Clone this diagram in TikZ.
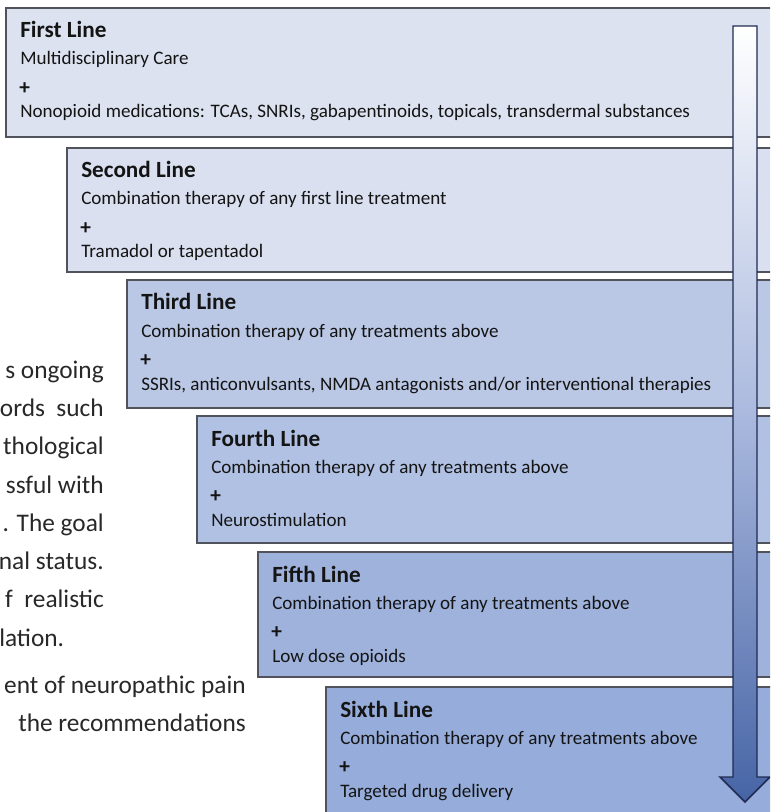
\documentclass[tikz,border=0pt]{standalone}
\usepackage{fontspec}
\setmainfont{Carlito}
\usetikzlibrary{calc}
\definecolor{boxA}{RGB}{220,226,240}
\definecolor{boxB}{RGB}{218,224,240}
\definecolor{boxC}{RGB}{186,200,229}
\definecolor{boxD}{RGB}{177,193,227}
\definecolor{boxE}{RGB}{158,178,220}
\definecolor{boxF}{RGB}{150,172,218}
\definecolor{edgegray}{RGB}{80,82,92}
\definecolor{navy}{RGB}{32,42,82}
\definecolor{arrowblue}{RGB}{70,100,165}
\definecolor{txt}{RGB}{20,20,20}
\definecolor{para}{RGB}{40,40,40}
\tikzset{
  linebox/.style={draw=edgegray, line width=1.1pt, anchor=north west, inner sep=0pt, outer sep=0pt},
  ttl/.style={anchor=base west, inner sep=0pt, font=\fontsize{17.4}{20}\selectfont\bfseries, text=txt},
  bodytxt/.style={anchor=base west, inner sep=0pt, font=\fontsize{14.3}{17}\selectfont, text=txt},
  plus/.style={anchor=west, inner sep=0pt, font=\fontsize{16}{18}\selectfont\bfseries, text=txt},
  paraR/.style={anchor=base east, inner sep=0pt, font=\fontsize{19}{22}\selectfont, text=para},
  paraL/.style={anchor=base west, inner sep=0pt, font=\fontsize{19}{22}\selectfont, text=para},
}
% #1 name, #2 left, #3 top, #4 bottom, #5 colour, #6 title, #7 line1, #8 line3
\newcommand\stepline[8]{%
  \node[linebox, fill=#5, minimum width={(800-#2)*0.75pt}, minimum height={(#4-#3)*0.75pt}] (#1) at (#2,#3) {};
  \node[ttl] (#1t) at ($(#1.north west)+(14,30)$) {#6};
  \node[bodytxt] (#1a) at ($(#1.north west)+(14,57)$) {#7};
  \node[plus] (#1p) at ($(#1.north west)+(13,81)$) {+};
  \node[bodytxt] (#1b) at ($(#1.north west)+(14,110)$) {#8};
}
\begin{document}
\begin{tikzpicture}[x=0.75pt, y=-0.75pt]
\useasboundingbox (0,0) rectangle (770,812);
\clip (0,0) rectangle (770,812);
\fill[white] (0,0) rectangle (770,812);

% paragraph fragments on the left
\node[paraR] (p1) at (104,378) {s ongoing};
\node[paraR] (p2) at (104,416) {ords~~such};
\node[paraR] (p3) at (104,454) {thological};
\node[paraR] (p4) at (104,493) {ssful with};
\node[paraR] (p5) at (104,531) {. The goal};
\node[paraR] (p6) at (104,569) {nal status.};
\node[paraR] (p7) at (104,607) {f~~realistic};
\node[paraL] (p8) at (-1,646) {lation.};
\node[paraR] (p9) at (246,693) {ent of neuropathic pain};
\node[paraR] (p10) at (246,731) {the recommendations};

\stepline{b1}{6}{8}{137}{boxA}{First Line}{Multidisciplinary Care}{Nonopioid medications: TCAs, SNRIs, gabapentinoids, topicals, transdermal substances}
\stepline{b2}{67}{148}{272}{boxB}{Second Line}{Combination therapy of any first line treatment}{Tramadol or tapentadol}
\stepline{b3}{127}{280}{408}{boxC}{Third Line}{Combination therapy of any treatments above}{SSRIs, anticonvulsants, NMDA antagonists and/or interventional therapies}
\stepline{b4}{197}{416}{543}{boxD}{Fourth Line}{Combination therapy of any treatments above}{Neurostimulation}
\stepline{b5}{258}{552}{677}{boxE}{Fifth Line}{Combination therapy of any treatments above}{Low dose opioids}
\stepline{b6}{326}{687}{830}{boxF}{Sixth Line}{Combination therapy of any treatments above}{Targeted drug delivery}

% progression arrow
\shade[top color=white, bottom color=arrowblue, middle color={rgb,255:red,170;green,185;blue,222}, draw=navy, line width=1.1pt, line join=miter]
  (733,26) -- (757,26) -- (757,777) -- (770,777) -- (745,802) -- (720,777) -- (733,777) -- cycle;
\end{tikzpicture}
\end{document}
